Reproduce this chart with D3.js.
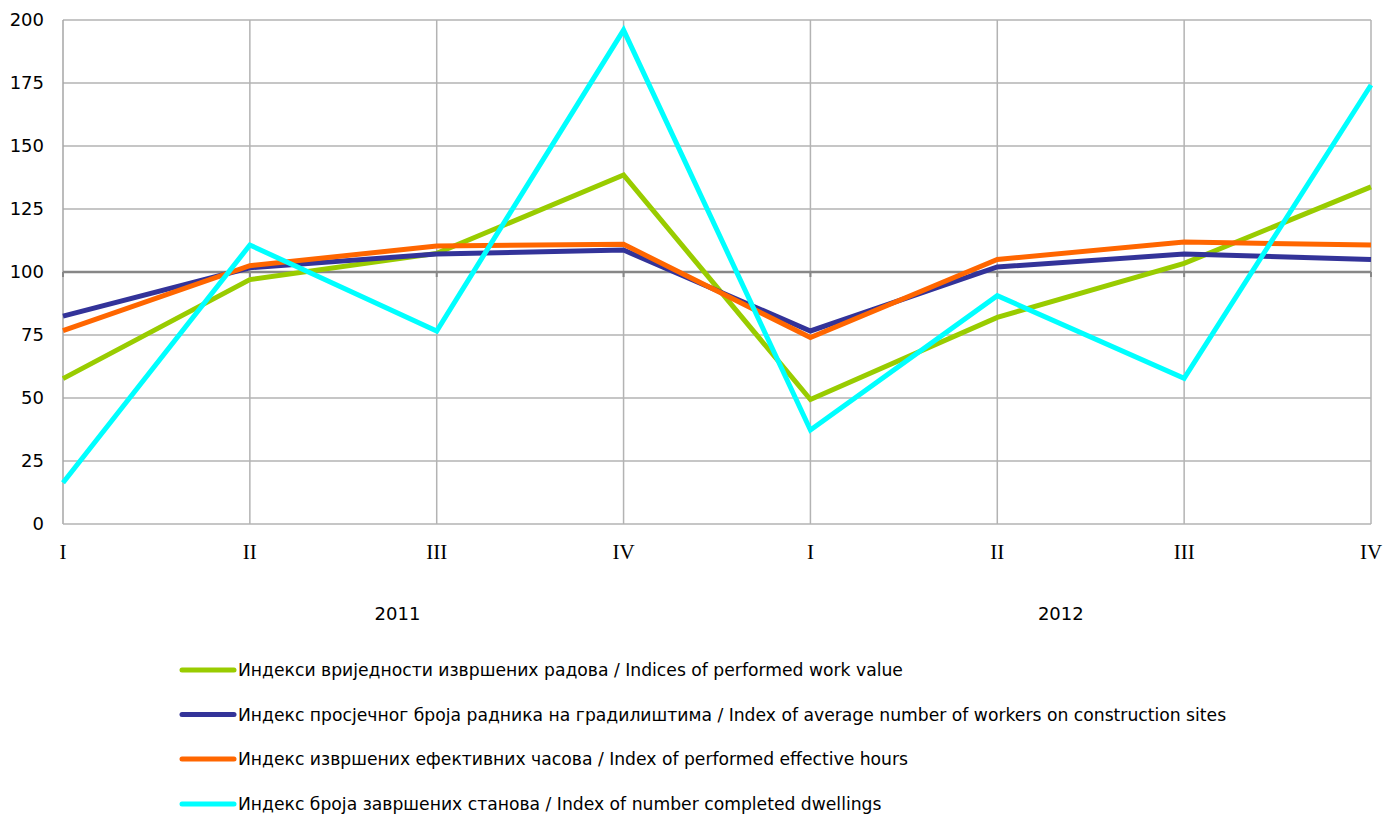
<!DOCTYPE html>
<html>
<head>
<meta charset="utf-8">
<script src="https://cdn.jsdelivr.net/npm/d3@7"></script>
<style>
  html, body { margin: 0; padding: 0; background: #fff; }
  svg { display: block; }
</style>
</head>
<body>
<svg id="chart" width="1396" height="814"></svg>
<script>
const quarters = ["I", "II", "III", "IV", "I", "II", "III", "IV"];
const years = ["2011", "2012"];
const yTicks = [0, 25, 50, 75, 100, 125, 150, 175, 200];

const workValue   = [57.7, 97, 107.4, 138.5, 49.4, 82, 103.4, 133.8];
const workers     = [82.5, 101.7, 107.1, 108.7, 76.6, 102, 107.1, 105];
const hours       = [76.7, 102.5, 110.3, 111, 74, 105, 111.9, 110.7];
const dwellings   = [16.4, 110.7, 76.6, 196, 37.3, 90.6, 57.8, 174.2];

const seriesNames = [
  "Индекси вриједности извршених радова / Indices of performed work value",
  "Индекс просјечног броја радника на градилиштима / Index of average number of workers on construction sites",
  "Индекс извршених ефективних часова / Index of performed effective hours",
  "Индекс броја завршених станова / Index of number completed dwellings"
];
const seriesColors = ["#99cc00", "#333399", "#ff6600", "#00ffff"];
const seriesValues = [workValue, workers, hours, dwellings];

(function () {
const svg = d3.select("#chart");
const pL = 63, pR = 1371, pT = 20, pB = 524;

const x = d3.scaleLinear().domain([0, quarters.length - 1]).range([pL, pR]);
const y = d3.scaleLinear().domain([0, 200]).range([pB, pT]);

const g = svg.append("g");

// horizontal gridlines
g.selectAll("line.hgrid").data(yTicks.filter(d => d !== 100 && d !== 0)).enter()
  .append("line")
  .attr("x1", pL).attr("x2", pR)
  .attr("y1", d => y(d)).attr("y2", d => y(d))
  .attr("stroke", "#b3b3b3").attr("stroke-width", 1.5);

// vertical gridlines
g.selectAll("line.vgrid").data(d3.range(1, quarters.length)).enter()
  .append("line")
  .attr("x1", d => x(d)).attr("x2", d => x(d))
  .attr("y1", pT).attr("y2", pB)
  .attr("stroke", "#b3b3b3").attr("stroke-width", 1.5);

// left border & bottom
g.append("line").attr("x1", pL).attr("x2", pL).attr("y1", pT).attr("y2", pB)
  .attr("stroke", "#a6a6a6").attr("stroke-width", 1.5);
g.append("line").attr("x1", pL).attr("x2", pR).attr("y1", y(0)).attr("y2", y(0))
  .attr("stroke", "#b3b3b3").attr("stroke-width", 1.5);

// category axis crossing at 100
g.append("line").attr("x1", pL).attr("x2", pR).attr("y1", y(100)).attr("y2", y(100))
  .attr("stroke", "#878787").attr("stroke-width", 2.5);
g.selectAll("line.tick100").data(d3.range(quarters.length)).enter()
  .append("line")
  .attr("x1", d => x(d)).attr("x2", d => x(d))
  .attr("y1", y(100)).attr("y2", y(100) + 5)
  .attr("stroke", "#878787").attr("stroke-width", 2);

// y labels
g.selectAll("text.ylab").data(yTicks).enter()
  .append("text")
  .attr("x", 44).attr("y", d => y(d))
  .attr("dy", "0.35em")
  .attr("text-anchor", "end")
  .attr("font-family", "DejaVu Sans, Verdana, sans-serif")
  .attr("font-size", 18)
  .attr("fill", "#000")
  .text(d => d);

// x labels
g.selectAll("text.xlab").data(quarters).enter()
  .append("text")
  .attr("x", (d, i) => x(i)).attr("y", 552)
  .attr("dy", "0.35em")
  .attr("text-anchor", "middle")
  .attr("font-family", "Liberation Serif, Times New Roman, serif")
  .attr("font-size", 21)
  .attr("fill", "#000")
  .text(d => d);

// year labels
const yearPos = [1.79, 5.34];
g.selectAll("text.year").data(years).enter()
  .append("text")
  .attr("x", (d, i) => x(yearPos[i])).attr("y", 614)
  .attr("dy", "0.35em")
  .attr("text-anchor", "middle")
  .attr("font-family", "DejaVu Sans, Verdana, sans-serif")
  .attr("font-size", 18)
  .attr("fill", "#000")
  .text(d => d);

// lines
const line = d3.line().x((d, i) => x(i)).y(d => y(d));
seriesValues.forEach((vals, si) => {
  g.append("path")
    .attr("d", line(vals))
    .attr("fill", "none")
    .attr("stroke", seriesColors[si])
    .attr("stroke-width", 5)
    .attr("stroke-linejoin", "miter");
});

// legend
const legY = [670, 714.5, 759, 804];
seriesNames.forEach((name, i) => {
  const lg = g.append("g");
  lg.append("line")
    .attr("x1", 182).attr("x2", 234)
    .attr("y1", legY[i]).attr("y2", legY[i])
    .attr("stroke", seriesColors[i]).attr("stroke-width", 5)
    .attr("stroke-linecap", "round");
  lg.append("text")
    .attr("x", 238).attr("y", legY[i])
    .attr("dy", "0.35em")
    .attr("font-family", "DejaVu Sans, sans-serif")
    .attr("font-size", 17.2)
    .attr("fill", "#000")
    .text(name);
});
})();
</script>
</body>
</html>
